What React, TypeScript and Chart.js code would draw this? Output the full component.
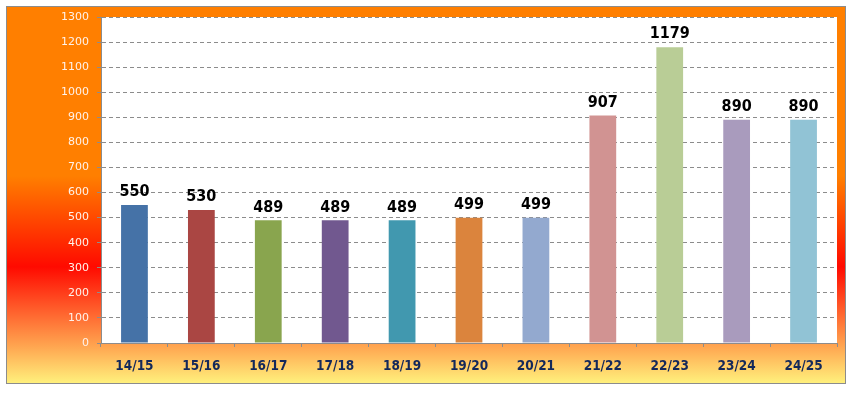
import React, { useEffect, useRef } from "react";
import { Chart, registerables } from "chart.js";

Chart.register(...registerables);

const categories = ["14/15", "15/16", "16/17", "17/18", "18/19", "19/20", "20/21", "21/22", "22/23", "23/24", "24/25"];
const values = [550, 530, 489, 489, 489, 499, 499, 907, 1179, 890, 890];
const barColors = ["#4572A7", "#AA4643", "#89A54E", "#71588F", "#4198AF", "#DB843D", "#93A9CF", "#D19392", "#B9CD96", "#A99BBD", "#91C3D5"];
const yMin = 0;
const yMax = 1300;
const yStep = 100;

const W = 857;
const H = 397;
const BOLD_FAMILY = '"DejaVu Sans Condensed", "DejaVu Sans"';

const backgroundPlugin = {
  id: "bgFrame",
  beforeDraw(chart: any) {
    const { ctx, chartArea } = chart;
    ctx.save();
    ctx.fillStyle = "#ffffff";
    ctx.fillRect(0, 0, W, H);
    const fx = 6, fy = 6, fw = 840, fh = 378;
    const g = ctx.createLinearGradient(0, fy, 0, fy + fh);
    g.addColorStop(0, "#FF7F00");
    g.addColorStop(0.45, "#FF7F00");
    g.addColorStop(0.69, "#FF0A00");
    g.addColorStop(0.9, "#FFA550");
    g.addColorStop(1, "#FFF27D");
    ctx.fillStyle = g;
    ctx.fillRect(fx, fy, fw, fh);
    ctx.strokeStyle = "#8C8C8C";
    ctx.lineWidth = 1;
    ctx.strokeRect(fx + 0.5, fy + 0.5, fw - 1, fh - 1);
    ctx.fillStyle = "#ffffff";
    ctx.fillRect(chartArea.left, chartArea.top, chartArea.right - chartArea.left, chartArea.bottom - chartArea.top);
    ctx.restore();
  },
};

const labelPlugin = {
  id: "valueLabels",
  afterDatasetsDraw(chart: any) {
    const { ctx } = chart;
    const meta = chart.getDatasetMeta(0);
    ctx.save();
    ctx.font = "bold 16px " + BOLD_FAMILY;
    ctx.textAlign = "center";
    ctx.textBaseline = "bottom";
    meta.data.forEach((el: any, i: number) => {
      const v = chart.data.datasets[0].data[i];
      ctx.fillStyle = "#000000";
      ctx.fillText(String(v), el.x, el.y - 5);
    });
    ctx.restore();
  },
};

export default function App() {
  const ref = useRef<HTMLCanvasElement | null>(null);
  useEffect(() => {
    document.body.style.margin = "0";
    const canvas = ref.current!;
    const chart = new Chart(canvas, {
      type: "bar",
      data: {
        labels: categories,
        datasets: [
          {
            data: values,
            backgroundColor: barColors,
            borderWidth: 0,
            barPercentage: 0.4,
            categoryPercentage: 1,
          },
        ],
      },
      options: {
        responsive: false,
        animation: false,
        devicePixelRatio: 1,
        layout: { padding: { left: 0, right: 20, top: 17, bottom: 0 } },
        plugins: { legend: { display: false }, tooltip: { enabled: false } },
        scales: {
          x: {
            offset: true,
            grid: {
              offset: true,
              drawOnChartArea: false,
              drawTicks: true,
              tickLength: 4,
              color: "#8C8C8C",
              tickBorderDash: [],
            },
            border: { color: "#8C8C8C", width: 1 },
            ticks: {
              color: "#14285A",
              padding: 11,
              font: { family: BOLD_FAMILY, size: 13.5, weight: "bold" },
              maxRotation: 0,
              autoSkip: false,
            },
            afterFit(s: any) {
              s.height = 54;
            },
          },
          y: {
            min: yMin,
            max: yMax,
            grid: {
              color: "#8C8C8C",
              tickLength: 4,
              drawTicks: true,
              tickBorderDash: [],
              tickColor: "#8C8C8C",
            },
            border: { color: "#8C8C8C", width: 1, dash: [4, 3] },
            ticks: {
              stepSize: yStep,
              color: "#FFF2EA",
              padding: 8,
              font: { family: '"DejaVu Sans"', size: 11 },
              callback: (v: any) => String(v),
            },
            afterFit(s: any) {
              s.width = 101;
            },
          },
        },
      },
      plugins: [backgroundPlugin, labelPlugin],
    });
    return () => chart.destroy();
  }, []);
  return <canvas ref={ref} width={W} height={H} style={{ display: "block", width: W, height: H }} />;
}
